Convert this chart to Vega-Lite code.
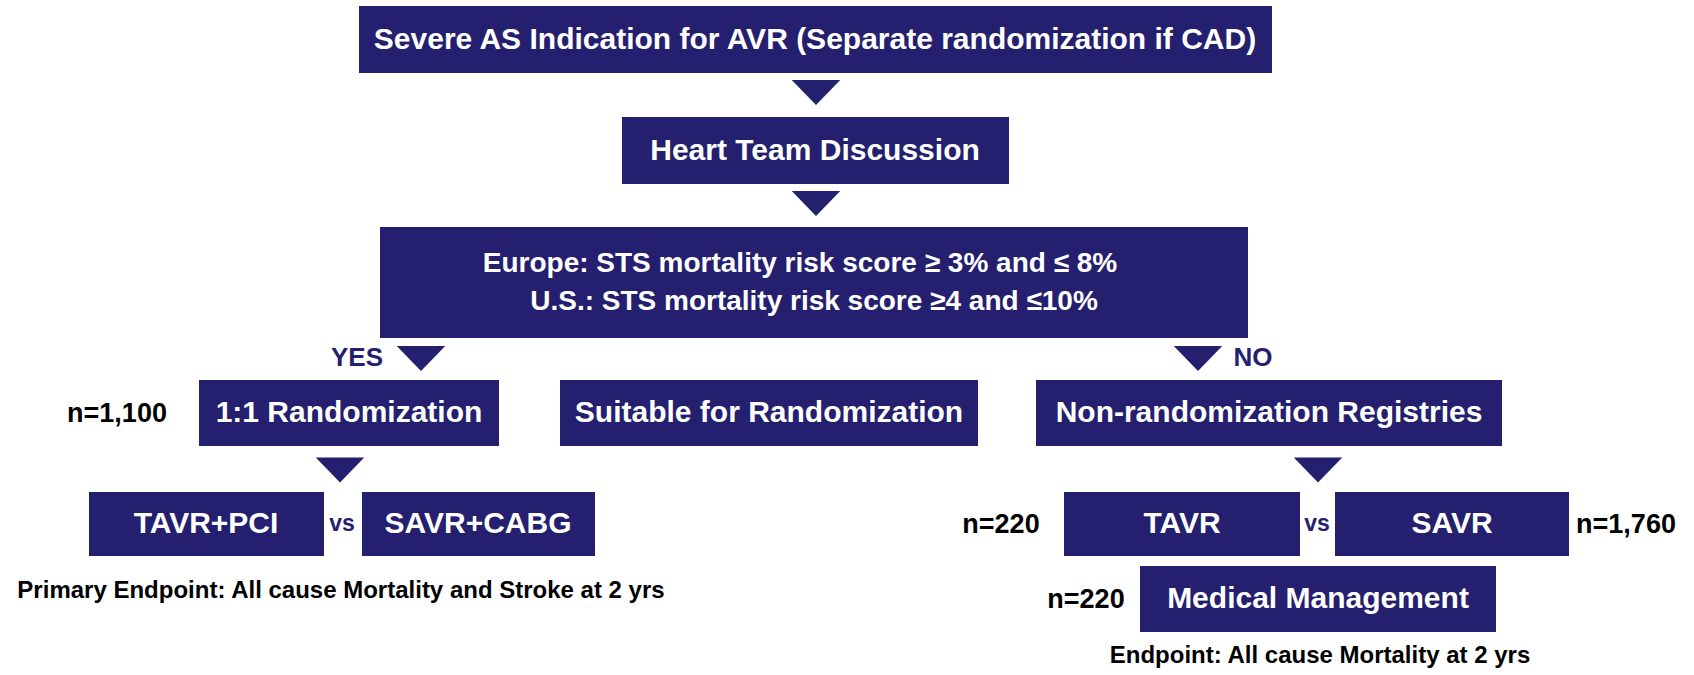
{
  "$schema": "https://vega.github.io/schema/vega-lite/v6.json",
  "width": 1694,
  "height": 675,
  "padding": 0,
  "autosize": {"type": "fit", "contains": "padding"},
  "background": "white",
  "config": {"view": {"stroke": null}},
  "datasets": {
    "boxes": [
      {"x1": 359, "x2": 1272, "y1": 6, "y2": 73},
      {"x1": 622, "x2": 1009, "y1": 117, "y2": 184},
      {"x1": 380, "x2": 1248, "y1": 227, "y2": 338},
      {"x1": 199, "x2": 499, "y1": 380, "y2": 446},
      {"x1": 560, "x2": 978, "y1": 380, "y2": 446},
      {"x1": 1036, "x2": 1502, "y1": 380, "y2": 446},
      {"x1": 89, "x2": 324, "y1": 492, "y2": 556},
      {"x1": 362, "x2": 595, "y1": 492, "y2": 556},
      {"x1": 1064, "x2": 1300, "y1": 492, "y2": 556},
      {"x1": 1335, "x2": 1569, "y1": 492, "y2": 556},
      {"x1": 1140, "x2": 1496, "y1": 566, "y2": 632}
    ],
    "tris": [
      {"x": 816, "y": 92.5},
      {"x": 816, "y": 203.5},
      {"x": 421, "y": 358.5},
      {"x": 1198, "y": 358.5},
      {"x": 340, "y": 470},
      {"x": 1318, "y": 470}
    ],
    "labels": [
      {"x": 815, "y": 40, "text": "Severe AS Indication for AVR (Separate randomization if CAD)", "role": "box"},
      {"x": 815, "y": 151, "text": "Heart Team Discussion", "role": "box"},
      {"x": 800, "y": 264, "text": "Europe: STS mortality risk score ≥ 3% and ≤ 8%", "role": "boxsm"},
      {"x": 814, "y": 302, "text": "U.S.: STS mortality risk score ≥4 and ≤10%", "role": "boxsm"},
      {"x": 349, "y": 413, "text": "1:1 Randomization", "role": "box"},
      {"x": 769, "y": 413, "text": "Suitable for Randomization", "role": "box"},
      {"x": 1269, "y": 413, "text": "Non-randomization Registries", "role": "box"},
      {"x": 206, "y": 524, "text": "TAVR+PCI", "role": "box"},
      {"x": 478, "y": 524, "text": "SAVR+CABG", "role": "box"},
      {"x": 1182, "y": 524, "text": "TAVR", "role": "box"},
      {"x": 1452, "y": 524, "text": "SAVR", "role": "box"},
      {"x": 1318, "y": 599, "text": "Medical Management", "role": "box"},
      {"x": 117, "y": 414, "text": "n=1,100", "role": "count"},
      {"x": 1001, "y": 525, "text": "n=220", "role": "count"},
      {"x": 1626, "y": 525, "text": "n=1,760", "role": "count"},
      {"x": 1086, "y": 600, "text": "n=220", "role": "count"},
      {"x": 341, "y": 591, "text": "Primary Endpoint: All cause Mortality and Stroke at 2 yrs", "role": "note"},
      {"x": 1320, "y": 656, "text": "Endpoint: All cause Mortality at 2 yrs", "role": "note"},
      {"x": 357, "y": 358, "text": "YES", "role": "branch"},
      {"x": 1253, "y": 358, "text": "NO", "role": "branch"},
      {"x": 342, "y": 524, "text": "vs", "role": "vs"},
      {"x": 1317, "y": 524, "text": "vs", "role": "vs"}
    ]
  },
  "layer": [
    {
      "data": {"name": "boxes"},
      "mark": {"type": "rect", "color": "#241f6e"},
      "encoding": {
        "x": {"field": "x1", "type": "quantitative", "scale": {"domain": [0, 1694], "nice": false, "zero": false}, "axis": null},
        "x2": {"field": "x2"},
        "y": {"field": "y1", "type": "quantitative", "scale": {"domain": [0, 675], "nice": false, "zero": false, "reverse": true}, "axis": null},
        "y2": {"field": "y2"}
      }
    },
    {
      "data": {"name": "tris"},
      "mark": {"type": "point", "shape": "M-1,-0.52L1,-0.52L0,0.52Z", "filled": true, "color": "#241f6e", "opacity": 1, "size": 2350, "strokeWidth": 0},
      "encoding": {
        "x": {"field": "x", "type": "quantitative", "scale": {"domain": [0, 1694], "nice": false, "zero": false}, "axis": null},
        "y": {"field": "y", "type": "quantitative", "scale": {"domain": [0, 675], "nice": false, "zero": false, "reverse": true}, "axis": null}
      }
    },
    {
      "data": {"name": "labels"},
      "transform": [{"filter": "datum.role === 'box'"}],
      "mark": {"type": "text", "font": "Liberation Sans", "fontWeight": "bold", "fontSize": 30, "color": "white", "baseline": "middle", "align": "center", "letterSpacing": -0.85},
      "encoding": {
        "x": {"field": "x", "type": "quantitative", "scale": {"domain": [0, 1694], "nice": false, "zero": false}, "axis": null},
        "y": {"field": "y", "type": "quantitative", "scale": {"domain": [0, 675], "nice": false, "zero": false, "reverse": true}, "axis": null},
        "text": {"field": "text"}
      }
    },
    {
      "data": {"name": "labels"},
      "transform": [{"filter": "datum.role === 'boxsm'"}],
      "mark": {"type": "text", "font": "Liberation Sans", "fontWeight": "bold", "fontSize": 28, "color": "white", "baseline": "middle", "align": "center", "letterSpacing": -1},
      "encoding": {
        "x": {"field": "x", "type": "quantitative", "scale": {"domain": [0, 1694], "nice": false, "zero": false}, "axis": null},
        "y": {"field": "y", "type": "quantitative", "scale": {"domain": [0, 675], "nice": false, "zero": false, "reverse": true}, "axis": null},
        "text": {"field": "text"}
      }
    },
    {
      "data": {"name": "labels"},
      "transform": [{"filter": "datum.role === 'count'"}],
      "mark": {"type": "text", "font": "Liberation Sans", "fontWeight": "bold", "fontSize": 27, "color": "black", "baseline": "middle", "align": "center", "letterSpacing": -0.7},
      "encoding": {
        "x": {"field": "x", "type": "quantitative", "scale": {"domain": [0, 1694], "nice": false, "zero": false}, "axis": null},
        "y": {"field": "y", "type": "quantitative", "scale": {"domain": [0, 675], "nice": false, "zero": false, "reverse": true}, "axis": null},
        "text": {"field": "text"}
      }
    },
    {
      "data": {"name": "labels"},
      "transform": [{"filter": "datum.role === 'note'"}],
      "mark": {"type": "text", "font": "Liberation Sans", "fontWeight": "bold", "fontSize": 24, "color": "black", "baseline": "middle", "align": "center", "letterSpacing": -0.4},
      "encoding": {
        "x": {"field": "x", "type": "quantitative", "scale": {"domain": [0, 1694], "nice": false, "zero": false}, "axis": null},
        "y": {"field": "y", "type": "quantitative", "scale": {"domain": [0, 675], "nice": false, "zero": false, "reverse": true}, "axis": null},
        "text": {"field": "text"}
      }
    },
    {
      "data": {"name": "labels"},
      "transform": [{"filter": "datum.role === 'branch'"}],
      "mark": {"type": "text", "font": "Liberation Sans", "fontWeight": "bold", "fontSize": 26, "color": "#241f6e", "baseline": "middle", "align": "center", "letterSpacing": -0.3},
      "encoding": {
        "x": {"field": "x", "type": "quantitative", "scale": {"domain": [0, 1694], "nice": false, "zero": false}, "axis": null},
        "y": {"field": "y", "type": "quantitative", "scale": {"domain": [0, 675], "nice": false, "zero": false, "reverse": true}, "axis": null},
        "text": {"field": "text"}
      }
    },
    {
      "data": {"name": "labels"},
      "transform": [{"filter": "datum.role === 'vs'"}],
      "mark": {"type": "text", "font": "Liberation Sans", "fontWeight": "bold", "fontSize": 23, "color": "#241f6e", "baseline": "middle", "align": "center", "letterSpacing": -0.5},
      "encoding": {
        "x": {"field": "x", "type": "quantitative", "scale": {"domain": [0, 1694], "nice": false, "zero": false}, "axis": null},
        "y": {"field": "y", "type": "quantitative", "scale": {"domain": [0, 675], "nice": false, "zero": false, "reverse": true}, "axis": null},
        "text": {"field": "text"}
      }
    }
  ]
}
